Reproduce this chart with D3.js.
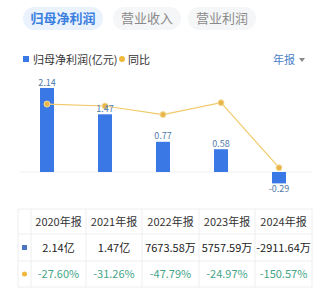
<!DOCTYPE html>
<html>
<head>
<meta charset="utf-8">
<script src="https://cdn.jsdelivr.net/npm/d3@7"></script>
<style>
  body { margin: 0; background: #fff; font-family: "Noto Sans CJK SC", "Noto Sans", sans-serif; }
</style>
</head>
<body>
<div id="chart"></div>
<script>
// data
var tabs = ['归母净利润', '营业收入', '营业利润']
var years = ['2020年报', '2021年报', '2022年报', '2023年报', '2024年报']
var profit = [2.14, 1.47, 0.77, 0.58, -0.29]
var yoy = [-27.60, -31.26, -47.79, -24.97, -150.57]
var profitText = ['2.14亿', '1.47亿', '7673.58万', '5757.59万', '-2911.64万']
var yoyText = ['-27.60%', '-31.26%', '-47.79%', '-24.97%', '-150.57%']

var w = 333, h = 294
var svg = d3.select('#chart').append('svg')
    .attr('width', w)
    .attr('height', h)

// tabs on top
var tabX = [23, 113, 188], tabW = [80, 68, 68]
tabs.forEach(function (t, i) {
    svg.append('rect')
        .attr('x', tabX[i]).attr('y', 7)
        .attr('width', tabW[i]).attr('height', 23)
        .attr('rx', 11.5)
        .attr('fill', i === 0 ? '#e9f2fd' : '#f5f6f7')
    svg.append('text')
        .attr('x', tabX[i] + tabW[i] / 2).attr('y', 23)
        .attr('text-anchor', 'middle')
        .attr('font-size', 13)
        .attr('font-weight', i === 0 ? 'bold' : 'normal')
        .attr('fill', i === 0 ? '#3a7fe0' : '#8a8a8a')
        .text(t)
})

// legend
svg.append('rect').attr('x', 23).attr('y', 56).attr('width', 6).attr('height', 6).attr('fill', '#3a78e6')
svg.append('text').attr('x', 33).attr('y', 63.5).attr('font-size', 11).attr('fill', '#333').text('归母净利润(亿元)')
svg.append('circle').attr('cx', 122).attr('cy', 59).attr('r', 3).attr('fill', '#f0b93b')
svg.append('text').attr('x', 128).attr('y', 63.5).attr('font-size', 11).attr('fill', '#333').text('同比')
svg.append('text').attr('x', 273).attr('y', 63.5).attr('font-size', 11).attr('fill', '#4a80c8').text('年报')
svg.append('path').attr('d', 'M299,58 L305,58 L302,62 Z').attr('fill', '#888')

// chart scales
var x = d3.scaleBand().domain(years).range([18, 308]).padding(0)
var yBar = d3.scaleLinear().domain([0, 2.14]).range([172, 88])
var yLine = d3.scaleLinear().domain([-160, 0]).range([172.6, 89.8])
var barW = 14

// zero line
svg.append('line')
    .attr('x1', 20).attr('x2', 312)
    .attr('y1', yBar(0)).attr('y2', yBar(0))
    .attr('stroke', '#eef0f3').attr('stroke-width', 1)

svg.selectAll('.bar')
    .data(profit)
    .enter()
    .append('rect')
    .attr('class', 'bar')
    .attr('x', function (d, i) { return x(years[i]) + x.bandwidth() / 2 - barW / 2 })
    .attr('y', function (d) { return yBar(Math.max(0, d)) })
    .attr('width', barW)
    .attr('height', function (d) { return Math.abs(yBar(d) - yBar(0)) })
    .attr('fill', '#3a78e6')

var line = d3.line()
    .x(function (d, i) { return x(years[i]) + x.bandwidth() / 2 })
    .y(function (d) { return yLine(d) })

svg.append('path')
    .datum(yoy)
    .attr('d', line)
    .attr('fill', 'none')
    .attr('stroke', '#f2c96a')
    .attr('stroke-width', 1.2)

svg.selectAll('.dot')
    .data(yoy)
    .enter()
    .append('circle')
    .attr('cx', function (d, i) { return x(years[i]) + x.bandwidth() / 2 })
    .attr('cy', function (d) { return yLine(d) })
    .attr('r', 3)
    .attr('fill', '#e8b54a')
    .attr('stroke', '#f6dc9c')
    .attr('stroke-width', 1)

svg.selectAll('.barLabel')
    .data(profit)
    .enter()
    .append('text')
    .attr('x', function (d, i) { return x(years[i]) + x.bandwidth() / 2 })
    .attr('y', function (d) { return d >= 0 ? yBar(d) - 2.5 : yBar(d) + 9 })
    .attr('text-anchor', 'middle')
    .attr('font-size', 9)
    .attr('fill', '#4f7aa8')
    .text(function (d) { return d.toFixed(2) })

// table
var tx = [18, 31, 86, 142, 199, 255, 312]
var ty = [209, 234, 261, 287]
var grid = '#eeeeee'
ty.forEach(function (y) {
    svg.append('line').attr('x1', 18).attr('x2', 312).attr('y1', y).attr('y2', y).attr('stroke', grid)
})
tx.forEach(function (xx) {
    svg.append('line').attr('x1', xx).attr('x2', xx).attr('y1', 209).attr('y2', 287).attr('stroke', grid)
})

var colMid = years.map(function (d, i) { return (tx[i + 1] + tx[i + 2]) / 2 })
var rows = [
    {texts: years, color: '#333'},
    {texts: profitText, color: '#222'},
    {texts: yoyText, color: '#45a487'}
]
rows.forEach(function (r, ri) {
    svg.selectAll('.row' + ri)
        .data(r.texts)
        .enter()
        .append('text')
        .attr('x', function (d, i) { return colMid[i] })
        .attr('y', (ty[ri] + ty[ri + 1]) / 2 + 4)
        .attr('text-anchor', 'middle')
        .attr('font-size', 11)
        .attr('fill', r.color)
        .text(function (d) { return d })
})
svg.append('rect').attr('x', 22).attr('y', 245).attr('width', 5).attr('height', 5).attr('fill', '#4a75c0')
svg.append('circle').attr('cx', 24.5).attr('cy', 274).attr('r', 2.5).attr('fill', '#f0b93b')
</script>
</body>
</html>
